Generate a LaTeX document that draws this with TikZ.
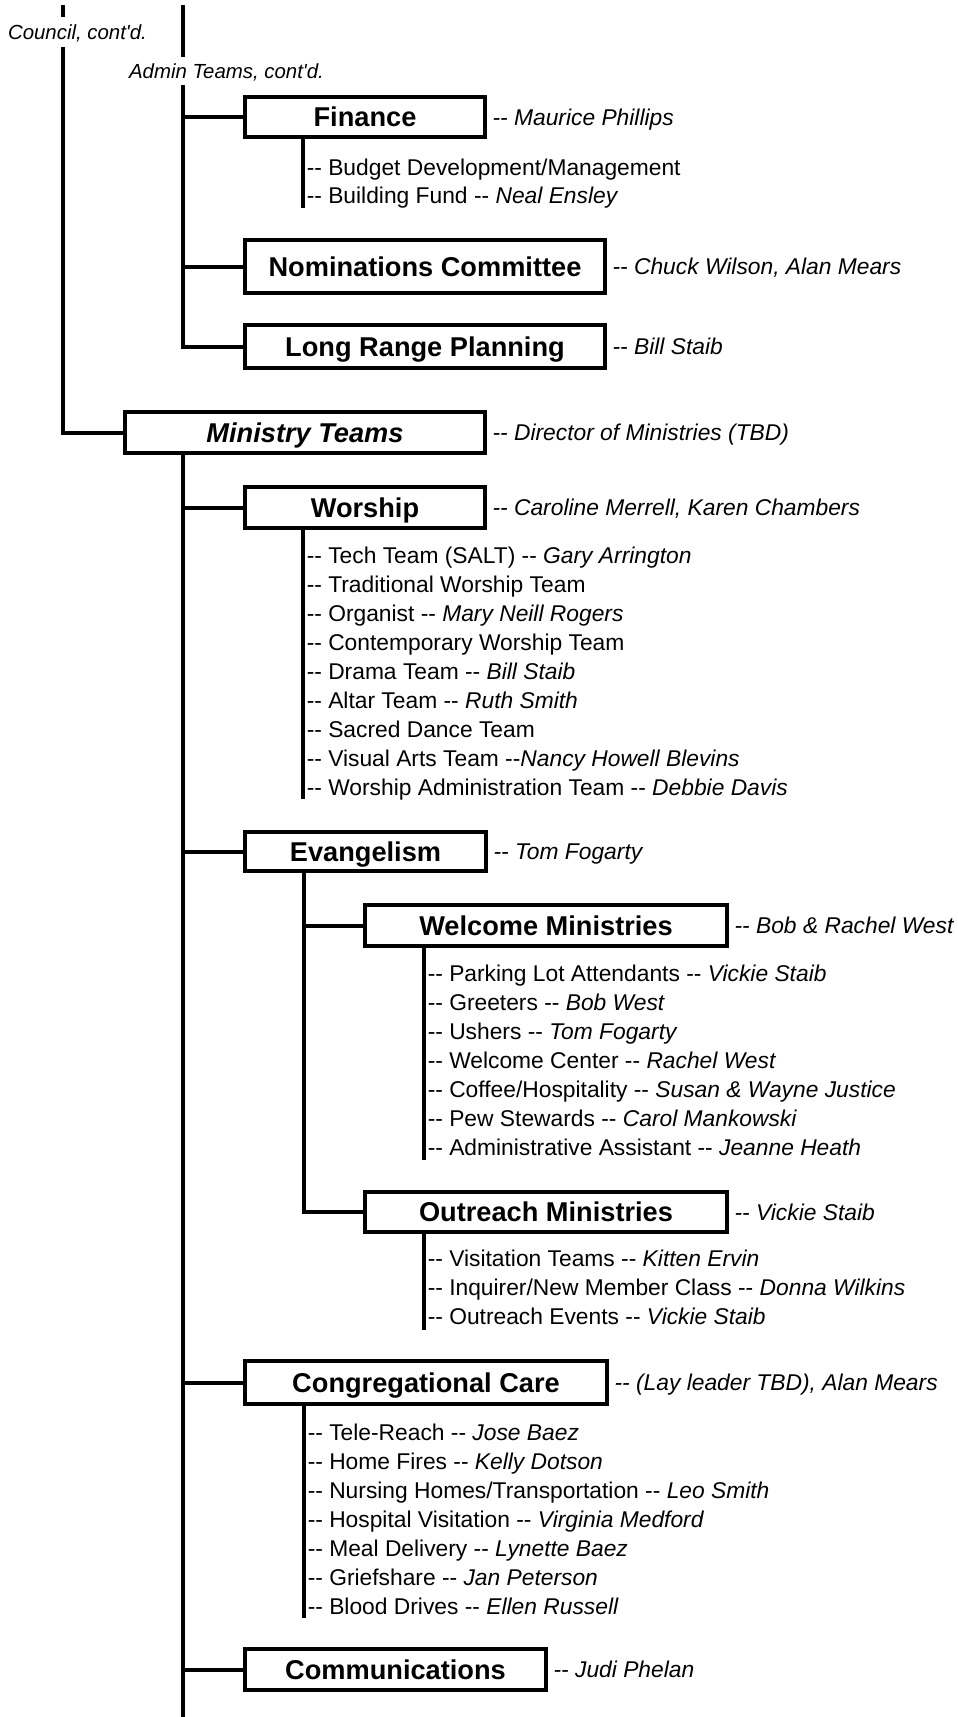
\documentclass[tikz,border=0pt]{standalone}
\usepackage{fontspec}
\setmainfont{Liberation Sans}[Ligatures=TeXOff]
\usetikzlibrary{positioning, calc}

\begin{document}
\begin{tikzpicture}[x=0.75pt,y=-0.75pt,
    teambox/.style={draw, line width=3pt, inner sep=0pt, text height=14.6pt, text depth=0pt,
      font=\fontsize{20.4}{24}\selectfont\bfseries},
    leader/.style={inner sep=0pt, text height=12.2pt, text depth=0pt,
      font=\fontsize{17.1}{21}\selectfont\itshape},
    entry/.style={inner sep=0pt, anchor=west, text height=12.2pt, text depth=0pt,
      font=\fontsize{17.1}{21}\selectfont},
    contd/.style={inner sep=0pt, text height=11pt, text depth=0pt,
      font=\fontsize{15.3}{18}\selectfont\itshape},
    trunk/.style={line width=3pt},
    twig/.style={line width=2.7pt}]
  \useasboundingbox (0,0) rectangle (957,1717);

  % continued labels
  \node[contd, minimum height=22.5pt] (council) at (77.5,32) {Council, cont'd.};
  \node[contd, minimum height=21pt] (admin) at (226.5,71) {Admin Teams, cont'd.};
  \coordinate (ctop) at (63,5);
  \coordinate (atop) at (183,5);

  % admin teams
  \node[teambox, minimum width=180pt, minimum height=30pt] (finance) at (365,117) {Finance};
  \node[teambox, minimum width=270pt, minimum height=39.75pt] (nominations) at (425,266.5) {Nominations Committee};
  \node[teambox, minimum width=270pt, minimum height=32.25pt] (longrange) at (425,346.5) {Long Range Planning};

  % ministry teams
  \node[teambox, minimum width=270pt, minimum height=30.75pt] (ministry) at (305,432.5) {\textit{Ministry Teams}};
  \node[teambox, minimum width=180pt, minimum height=30.75pt] (worship) at (365,507.5) {Worship};
  \node[teambox, minimum width=180.75pt, minimum height=29.25pt] (evangelism) at (365.5,851.5) {Evangelism};
  \node[teambox, minimum width=271.5pt, minimum height=30.75pt] (welcome) at (546,925.5) {Welcome Ministries};
  \node[teambox, minimum width=271.5pt, minimum height=30pt] (outreach) at (546,1212) {Outreach Ministries};
  \node[teambox, minimum width=271.5pt, minimum height=32.25pt] (congcare) at (426,1382.5) {Congregational Care};
  \node[teambox, minimum width=225.75pt, minimum height=30.75pt] (comms) at (395.5,1669.5) {Communications};

  % leaders
  \node[leader, right=4pt of finance] (financelead) {-- Maurice Phillips};
  \node[leader, right=4pt of nominations] (nominationslead) {-- Chuck Wilson, Alan Mears};
  \node[leader, right=4pt of longrange] (longrangelead) {-- Bill Staib};
  \node[leader, right=4pt of ministry] (ministrylead) {-- Director of Ministries (TBD)};
  \node[leader, right=4pt of worship] (worshiplead) {-- Caroline Merrell, Karen Chambers};
  \node[leader, right=4pt of evangelism] (evangelismlead) {-- Tom Fogarty};
  \node[leader, right=4pt of welcome] (welcomelead) {-- Bob \& Rachel West};
  \node[leader, right=4pt of outreach] (outreachlead) {-- Vickie Staib};
  \node[leader, right=4pt of congcare] (congcarelead) {-- (Lay leader TBD), Alan Mears};
  \node[leader, right=4pt of comms] (commslead) {-- Judi Phelan};

  % lists
  \foreach \txt [count=\i from 0] in {{-- Budget Development/Management},
      {-- Building Fund -- \textit{Neal Ensley}}}
    \node[entry] (finance\i) at (306.5,167+28*\i) {\txt};
  \foreach \txt [count=\i from 0] in {{-- Tech Team (SALT) -- \textit{Gary Arrington}},
      {-- Traditional Worship Team},
      {-- Organist -- \textit{Mary Neill Rogers}},
      {-- Contemporary Worship Team},
      {-- Drama Team -- \textit{Bill Staib}},
      {-- Altar Team -- \textit{Ruth Smith}},
      {-- Sacred Dance Team},
      {-- Visual Arts Team --\textit{Nancy Howell Blevins}},
      {-- Worship Administration Team -- \textit{Debbie Davis}}}
    \node[entry] (worship\i) at (306.5,555+29*\i) {\txt};
  \foreach \txt [count=\i from 0] in {{-- Parking Lot Attendants -- \textit{Vickie Staib}},
      {-- Greeters -- \textit{Bob West}},
      {-- Ushers -- \textit{Tom Fogarty}},
      {-- Welcome Center -- \textit{Rachel West}},
      {-- Coffee/Hospitality -- \textit{Susan \& Wayne Justice}},
      {-- Pew Stewards -- \textit{Carol Mankowski}},
      {-- Administrative Assistant -- \textit{Jeanne Heath}}}
    \node[entry] (welcome\i) at (427.5,973+29*\i) {\txt};
  \foreach \txt [count=\i from 0] in {{-- Visitation Teams -- \textit{Kitten Ervin}},
      {-- Inquirer/New Member Class -- \textit{Donna Wilkins}},
      {-- Outreach Events -- \textit{Vickie Staib}}}
    \node[entry] (outreach\i) at (427.5,1258+29*\i) {\txt};
  \foreach \txt [count=\i from 0] in {{-- Tele-Reach -- \textit{Jose Baez}},
      {-- Home Fires -- \textit{Kelly Dotson}},
      {-- Nursing Homes/Transportation -- \textit{Leo Smith}},
      {-- Hospital Visitation -- \textit{Virginia Medford}},
      {-- Meal Delivery -- \textit{Lynette Baez}},
      {-- Griefshare -- \textit{Jan Peterson}},
      {-- Blood Drives -- \textit{Ellen Russell}}}
    \node[entry] (congcare\i) at (307.5,1432+29*\i) {\txt};

  % list ends
  \coordinate (financeend) at (303,208);
  \coordinate (worshipend) at (303,799);
  \coordinate (welcomeend) at (424,1160);
  \coordinate (outreachend) at (424,1330);
  \coordinate (congcareend) at (304,1618);
  \coordinate (evline) at (304,873);
  \coordinate (mbot) at (183,1717);

  % council line
  \draw[trunk] (ctop) -- (council.north -| ctop);
  \draw[trunk] (council.south -| ctop) |- (ministry.west);
  % admin line
  \draw[trunk] (atop) -- (admin.north -| atop);
  \draw[trunk] (admin.south -| atop) |- (longrange.west);
  \foreach \b in {finance, nominations}
    \draw[trunk] (\b.west -| atop) -- (\b.west);
  % ministry line
  \draw[trunk] (ministry.south -| mbot) -- (mbot);
  \foreach \b in {worship, evangelism, congcare, comms}
    \draw[trunk] (\b.west -| mbot) -- (\b.west);
  % evangelism line
  \draw[trunk] (evangelism.south -| evline) |- (outreach.west);
  \draw[trunk] (welcome.west -| evline) -- (welcome.west);
  % list lines
  \foreach \b in {finance, worship, welcome, outreach, congcare}
    \draw[twig] (\b.south -| \b end) -- (\b end);
\end{tikzpicture}
\end{document}
